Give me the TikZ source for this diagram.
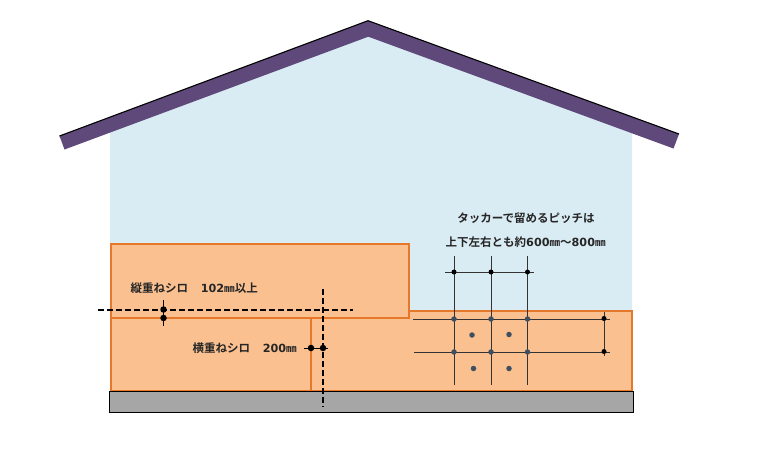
\documentclass[tikz,border=0pt]{standalone}
\usepackage{fontspec}
\newfontfamily\cjk{Noto Sans CJK JP}[BoldFont={Noto Sans CJK JP Bold}]
\newfontfamily\dgfont{DejaVu Sans}[BoldFont={DejaVu Sans Bold}]
\newcommand{\dg}[1]{{\dgfont\bfseries\fontsize{11.2}{13}\selectfont #1}}
\newcommand{\mmu}{{\fontsize{10.6}{13}\selectfont ㎜}}
\definecolor{wallblue}{HTML}{DAECF3}
\definecolor{roofpurple}{HTML}{5F497A}
\definecolor{sheetfill}{HTML}{FAC090}
\definecolor{sheetedge}{HTML}{E5782A}
\definecolor{basegrey}{HTML}{A6A6A6}
\definecolor{tackgrey}{HTML}{3F4F5F}
\definecolor{gridline}{HTML}{333333}
\tikzset{
  sheet/.style={draw=sheetedge,fill=sheetfill,line width=1.8pt,line join=miter},
  dim/.style={draw=black,line width=0.8pt},
  dimdash/.style={draw=black,line width=1.7pt,dash pattern=on 6pt off 3pt},
  gridln/.style={draw=gridline,line width=0.9pt},
  blackdot/.style={circle,fill=black,inner sep=0pt,minimum size=6.5pt},
  tack/.style={circle,fill=tackgrey,inner sep=0pt,minimum size=5.5pt},
  lbl/.style={inner sep=0pt,text=black!85,font=\cjk\bfseries\fontsize{11.5}{13}\selectfont}
}
\begin{document}
\begin{tikzpicture}[x=1pt,y=-1pt]
\useasboundingbox (0,0) rectangle (768,467);
% wall
\fill[wallblue] (110,130) -- (368,30) -- (632,130) -- (632,390) -- (110,390) -- cycle;
% roof
\fill[roofpurple] (59.5,136) -- (368,20.7) -- (679,134) -- (673.5,148.5) -- (368.3,36.7) -- (64.5,149.5) -- cycle;
\draw[black,line width=1.1pt,line join=miter] (59.5,136) -- (368,20.7) -- (679,134);
% sheets
\draw[sheet] (311,311) rectangle (632,390.5);
\draw[sheet] (110.7,318.3) rectangle (311,390.5);
\draw[sheet] (110.7,243.7) rectangle (409.3,318.3);
% foundation
\draw[draw=black,fill=basegrey,line width=1.6pt] (109.5,391.5) rectangle (633.5,412.5);
% tacker grid
\coordinate (v1t) at (454,256); \coordinate (v1b) at (454,385);
\coordinate (v2t) at (491,256); \coordinate (v2b) at (491,385);
\coordinate (v3t) at (527.5,256); \coordinate (v3b) at (527.5,385);
\coordinate (h0l) at (445,272); \coordinate (h0r) at (534,272);
\coordinate (h1l) at (413,319); \coordinate (h1r) at (610,319);
\coordinate (h2l) at (414,352); \coordinate (h2r) at (610,352);
\coordinate (rt) at (604,312); \coordinate (rb) at (604,356);
\foreach \a/\b in {v1t/v1b,v2t/v2b,v3t/v3b,h0l/h0r,h1l/h1r,h2l/h2r,rt/rb}
  \draw[gridln] (\a) -- (\b);
\node[blackdot,minimum size=5pt] (t1) at (454,272) {};
\node[blackdot,minimum size=5pt] (t2) at (491,272) {};
\node[blackdot,minimum size=5pt] (t3) at (527.5,272) {};
\node[blackdot,minimum size=5pt] (r1) at (604,318.5) {};
\node[blackdot,minimum size=5pt] (r2) at (604,351.5) {};
\node[tack] (m1) at (454,319) {};
\node[tack] (m2) at (491,319) {};
\node[tack] (m3) at (527.5,319) {};
\node[tack] (m4) at (454,352) {};
\node[tack] (m5) at (491,352) {};
\node[tack] (m6) at (527.5,352) {};
\node[tack] (c1) at (472,335) {};
\node[tack] (c2) at (509,334.5) {};
\node[tack] (c3) at (473.5,368.5) {};
\node[tack] (c4) at (509,368.5) {};
% overlap dimensions
\coordinate (a1) at (98,309.7); \coordinate (a2) at (353,309.7);
\coordinate (b1) at (323,289); \coordinate (b2) at (323,407);
\coordinate (d1) at (163.5,300); \coordinate (d2) at (163.5,325.5);
\coordinate (e1) at (304,348); \coordinate (e2) at (328,348);
\draw[dim] (d1) -- (d2);
\draw[dim] (e1) -- (e2);
\draw[dimdash] (a1) -- (a2);
\draw[dimdash] (b1) -- (b2);
\node[blackdot] (vd1) at (163.5,309.5) {};
\node[blackdot] (vd2) at (163.5,318) {};
\node[blackdot] (hd1) at (311,348) {};
\node[blackdot] (hd2) at (323,348) {};
% labels
\node[lbl,anchor=west] (l1) at (130.5,288) {縦重ねシロ\hspace{1.1em}\dg{102}\mmu 以上};
\node[lbl,anchor=west] (l2) at (192.5,348) {横重ねシロ\hspace{1.1em}\dg{200}\mmu};
\node[lbl] (l3) at (526,218) {タッカーで留めるピッチは};
\node[lbl,anchor=west] (l4) at (445.5,242) {上下左右とも約\dg{600}\mmu ～\dg{800}\mmu};
\end{tikzpicture}
\end{document}
